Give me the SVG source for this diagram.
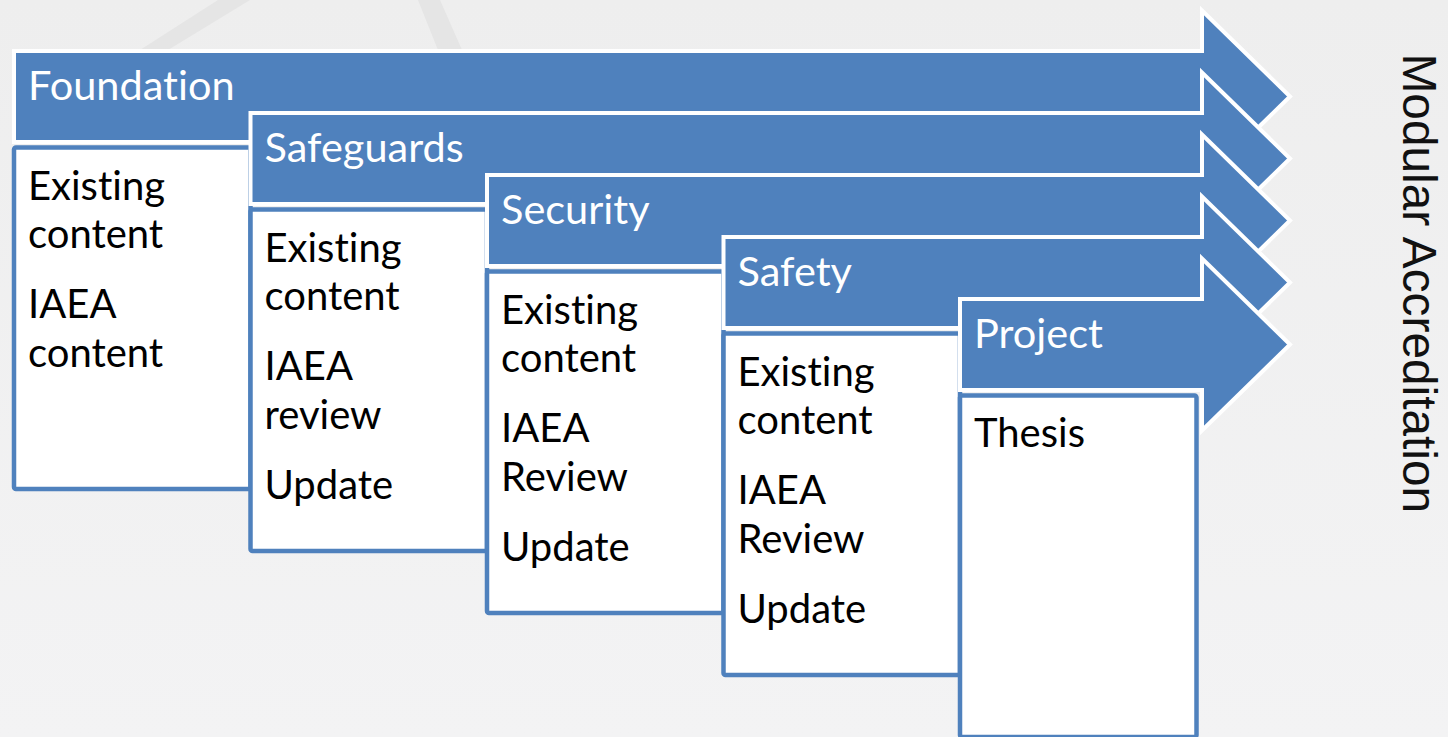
<svg xmlns="http://www.w3.org/2000/svg" width="1448" height="737" viewBox="0 0 1448 737">
  <defs>
    <linearGradient id="bg" x1="0" y1="0" x2="0" y2="1">
      <stop offset="0" stop-color="#EEEEEE"/>
      <stop offset="1" stop-color="#F3F3F4"/>
    </linearGradient>
    <style>
      .arrow { fill: #4F81BD; stroke: #FFFFFF; stroke-width: 4; stroke-linejoin: miter; }
      .box { fill: #FFFFFF; stroke: #4F81BD; stroke-width: 4.5; }
      .label { font-family: Lato, "Open Sans", sans-serif; font-size: 41.5px; fill: #FFFFFF; font-variant-ligatures: none; }
      .body { font-family: Lato, "Open Sans", sans-serif; font-size: 40px; fill: #000000; font-variant-ligatures: none; }
      .side { font-family: "Liberation Sans", Arial, sans-serif; font-size: 47.8px; fill: #111111; }
    </style>
  </defs>

  <rect x="0" y="0" width="1448" height="737" fill="url(#bg)"/>
  <g id="background-marks" fill="#E5E5E5">
    <polygon points="140,50 168,50 250,0 218,0"/>
    <polygon points="418,0 440,0 462,50 438,50"/>
  </g>

  <g id="stage-foundation">
    <path class="arrow" d="M14,51 H1202 V10.5 L1290,96.5 L1202,182.5 V142 H14 Z"/>
    <text class="label" x="28" y="100">Foundation</text>
    <rect class="box" x="14" y="147.5" width="236.5" height="341.5" rx="2"/>
    <text class="body" x="28" y="200">Existing</text>
    <text class="body" x="28" y="248">content</text>
    <text class="body" x="28" y="318">IAEA</text>
    <text class="body" x="28" y="367">content</text>
  </g>

  <g id="stage-safeguards">
    <path class="arrow" d="M250.5,113 H1202 V72.5 L1290,158.5 L1202,244.5 V204 H250.5 Z"/>
    <text class="label" x="264.5" y="162">Safeguards</text>
    <rect class="box" x="250.5" y="209.5" width="236.5" height="341.5" rx="2"/>
    <text class="body" x="264.5" y="262">Existing</text>
    <text class="body" x="264.5" y="310">content</text>
    <text class="body" x="264.5" y="380">IAEA</text>
    <text class="body" x="264.5" y="429">review</text>
    <text class="body" x="264.5" y="499">Update</text>
  </g>

  <g id="stage-security">
    <path class="arrow" d="M487,175 H1202 V134.5 L1290,220.5 L1202,306.5 V266 H487 Z"/>
    <text class="label" x="501" y="224">Security</text>
    <rect class="box" x="487" y="271.5" width="236.5" height="341.5" rx="2"/>
    <text class="body" x="501" y="324">Existing</text>
    <text class="body" x="501" y="372">content</text>
    <text class="body" x="501" y="442">IAEA</text>
    <text class="body" x="501" y="491">Review</text>
    <text class="body" x="501" y="561">Update</text>
  </g>

  <g id="stage-safety">
    <path class="arrow" d="M723.5,237 H1202 V196.5 L1290,282.5 L1202,368.5 V328 H723.5 Z"/>
    <text class="label" x="737.5" y="286">Safety</text>
    <rect class="box" x="723.5" y="333.5" width="236.5" height="341.5" rx="2"/>
    <text class="body" x="737.5" y="386">Existing</text>
    <text class="body" x="737.5" y="434">content</text>
    <text class="body" x="737.5" y="504">IAEA</text>
    <text class="body" x="737.5" y="553">Review</text>
    <text class="body" x="737.5" y="623">Update</text>
  </g>

  <g id="stage-project">
    <path class="arrow" d="M960,299 H1202 V258.5 L1290,344.5 L1202,430.5 V390 H960 Z"/>
    <text class="label" x="974" y="348">Project</text>
    <rect class="box" x="960" y="395.5" width="236.5" height="341.5" rx="2"/>
    <text class="body" x="974" y="447">Thesis</text>
  </g>

  <g id="connectors"></g>

  <g id="side-title">
    <text class="side" transform="translate(1403,53.5) rotate(90)">Modular Accreditation</text>
  </g>
</svg>
